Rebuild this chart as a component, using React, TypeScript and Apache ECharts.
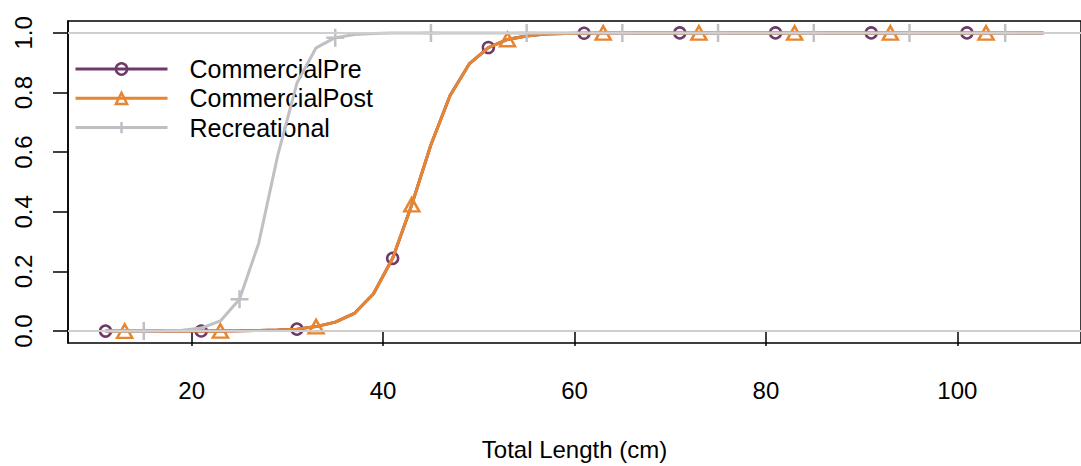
import React, { useEffect, useRef } from "react";
import * as echarts from "echarts";

const lengths = [11, 13, 15, 17, 19, 21, 23, 25, 27, 29, 31, 33, 35, 37, 39, 41, 43, 45, 47, 49, 51, 53, 55, 57, 59, 61, 63, 65, 67, 69, 71, 73, 75, 77, 79, 81, 83, 85, 87, 89, 91, 93, 95, 97, 99, 101, 103, 105, 107, 109];

const commercialPre = [0, 0, 0, 0.0001, 0.0001, 0.0003, 0.0005, 0.0011, 0.0022, 0.004, 0.0065, 0.015, 0.03, 0.059, 0.125, 0.244, 0.424, 0.625, 0.79, 0.896, 0.951, 0.978, 0.99, 0.996, 0.998, 0.999, 1, 1, 1, 1, 1, 1, 1, 1, 1, 1, 1, 1, 1, 1, 1, 1, 1, 1, 1, 1, 1, 1, 1, 1];

const commercialPost = [0, 0, 0, 0.0001, 0.0001, 0.0003, 0.0005, 0.0011, 0.0022, 0.004, 0.0065, 0.015, 0.03, 0.059, 0.125, 0.244, 0.424, 0.625, 0.79, 0.896, 0.951, 0.978, 0.99, 0.996, 0.998, 0.999, 1, 1, 1, 1, 1, 1, 1, 1, 1, 1, 1, 1, 1, 1, 1, 1, 1, 1, 1, 1, 1, 1, 1, 1];

const recreational = [0, 0, 0.0001, 0.001, 0.003, 0.01, 0.034, 0.107, 0.294, 0.59, 0.832, 0.95, 0.984, 0.995, 0.998, 0.9995, 1, 1, 1, 1, 1, 1, 1, 1, 1, 1, 1, 1, 1, 1, 1, 1, 1, 1, 1, 1, 1, 1, 1, 1, 1, 1, 1, 1, 1, 1, 1, 1, 1, 1];

const xTicks = [20, 40, 60, 80, 100];
const yTicks = [0, 0.2, 0.4, 0.6, 0.8, 1.0];
const refLines = [0, 1];

const seriesNames = ["CommercialPre", "CommercialPost", "Recreational"];
const colors = ["#6e3a6a", "#e8852f", "#c0bfc4"];

const FONT = "'Liberation Sans', Arial, Helvetica, sans-serif";
const CROSS = "path://M10,0 L10,20 M0,10 L20,10";

function buildData(values: number[], offset: number) {
  return lengths.map((x, i) => {
    const item: any = { value: [x, values[i]] };
    if (i % 5 !== offset) item.symbol = "none";
    return item;
  });
}

export default function App() {
  const ref = useRef<HTMLDivElement>(null);

  useEffect(() => {
    if (!ref.current) return;
    const chart = echarts.init(ref.current, null, { renderer: "svg" });

    const mk = (idx: number, values: number[], symbol: string, size: any, extra: any = {}) => ({
      name: seriesNames[idx],
      type: "line",
      data: buildData(values, idx),
      symbol,
      symbolSize: size,
      showAllSymbol: true,
      lineStyle: { color: colors[idx], width: 3 },
      itemStyle: { color: "rgba(0,0,0,0)", borderColor: colors[idx], borderWidth: 2.5 },
      emphasis: { disabled: true },
      z: 2 + idx,
      ...extra,
    });

    chart.setOption({
      animation: false,
      backgroundColor: "#ffffff",
      textStyle: { fontFamily: FONT },
      grid: {
        left: 68,
        top: 21,
        width: 1023,
        height: 327,
        show: true,
        borderColor: "#000",
        borderWidth: 1.5,
        backgroundColor: "transparent",
      },
      legend: {
        orient: "vertical",
        left: 69,
        top: 51.5,
        itemWidth: 92,
        itemHeight: 14,
        itemGap: 4.3,
        data: seriesNames,
        lineStyle: { width: 3 },
        itemStyle: { borderWidth: 2.5 },
        textStyle: { fontSize: 25, color: "#000", fontFamily: FONT, lineHeight: 25, padding: [0, 0, 0, 17] },
      },
      xAxis: {
        type: "value",
        min: 7.08,
        max: 112.92,
        name: "Total Length (cm)",
        nameLocation: "middle",
        nameGap: 94,
        nameTextStyle: { fontSize: 24, color: "#000", fontFamily: FONT },
        axisLine: { show: true, lineStyle: { color: "#000", width: 1.5 } },
        axisTick: { show: true, length: 15, customValues: xTicks, lineStyle: { color: "#000", width: 1.5 } },
        axisLabel: { customValues: xTicks, fontSize: 24, color: "#000", margin: 35, fontFamily: FONT },
        splitLine: { show: false },
      },
      yAxis: {
        type: "value",
        min: -0.04,
        max: 1.04,
        axisLine: { show: true, lineStyle: { color: "#000", width: 1.5 } },
        axisTick: { show: true, length: 15, customValues: yTicks, lineStyle: { color: "#000", width: 1.5 } },
        axisLabel: {
          customValues: yTicks,
          rotate: 90,
          fontSize: 24,
          color: "#000",
          margin: 33,
          fontFamily: FONT,
          formatter: (v: number) => v.toFixed(1),
        },
        splitLine: { show: false },
      },
      series: [
        mk(0, commercialPre, "circle", 11),
        mk(1, commercialPost, "triangle", [15, 13.5]),
        mk(2, recreational, CROSS, 18, {
          markLine: {
            silent: true,
            symbol: "none",
            label: { show: false },
            lineStyle: { color: "#cfcfcf", width: 2, type: "solid" },
            data: refLines.map((v) => ({ yAxis: v })),
          },
        }),
      ],
    });

    return () => chart.dispose();
  }, []);

  return (
    <div
      ref={ref}
      style={{ position: "absolute", left: 0, top: 0, width: 1081, height: 466 }}
    />
  );
}
